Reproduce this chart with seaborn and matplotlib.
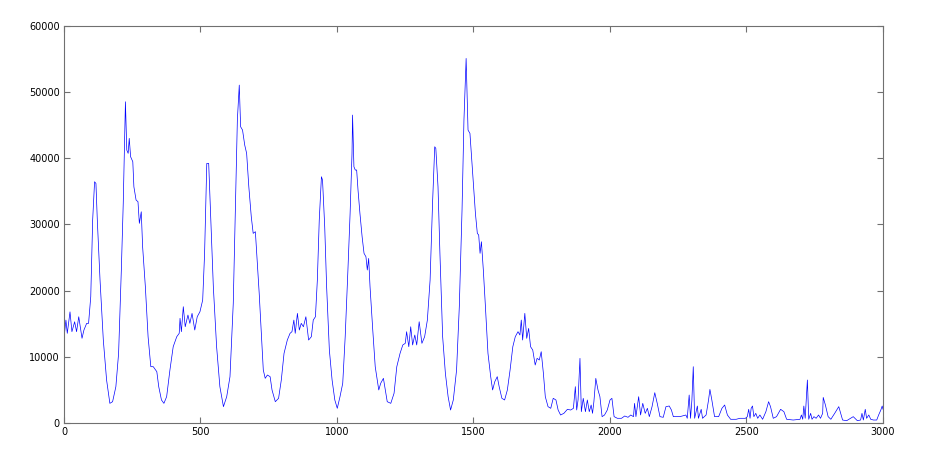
import matplotlib
matplotlib.use("Agg")
import matplotlib.pyplot as plt
import seaborn as sns

# sample index / signal value
x = [0, 7, 12, 22, 29, 39, 46, 54, 66, 73,
     83, 90, 98, 105, 112, 117, 122, 132, 144, 156,
     168, 178, 190, 200, 210, 217, 225, 230, 235, 239,
     244, 252, 256, 264, 271, 276, 283, 288, 298, 308,
     318, 327, 340, 347, 357, 366, 376, 388, 400, 413,
     422, 425, 430, 437, 444, 454, 461, 469, 479, 488,
     498, 508, 515, 523, 530, 537, 547, 559, 571, 584,
     596, 608, 620, 627, 635, 642, 647, 654, 662, 669,
     677, 686, 693, 701, 706, 715,
     730, 737, 745, 755, 762, 774, 786, 796, 806, 818,
     828, 835, 842, 847, 855, 862, 869, 877, 886, 896,
     906, 913, 921, 928, 935, 943, 947, 955, 962, 972,
     982, 992, 1001, 1011, 1021, 1030, 1040, 1048, 1055, 1057,
     1062, 1067, 1072, 1077, 1084, 1092, 1099, 1106, 1111, 1116,
     1121, 1131, 1140, 1153, 1160, 1170, 1175, 1184, 1197, 1209,
     1219, 1231, 1241, 1250, 1255, 1263, 1270, 1277, 1285, 1292,
     1301, 1311, 1321, 1331, 1341, 1350, 1358, 1362, 1370, 1377,
     1387, 1397, 1407, 1416, 1426, 1438, 1448, 1458, 1465, 1473,
     1480, 1487, 1492, 1499, 1507, 1514, 1519, 1524, 1529, 1536,
     1543, 1553, 1563, 1570, 1578, 1587, 1594, 1604, 1614, 1624,
     1634, 1644, 1653, 1663, 1670, 1675, 1680, 1688, 1695, 1702,
     1709, 1717, 1726, 1733, 1741, 1748, 1756, 1763, 1773, 1783,
     1792, 1802, 1810, 1819, 1831, 1844, 1856, 1866, 1873, 1878,
     1883, 1890, 1895, 1902, 1910, 1917, 1924, 1931, 1936, 1941,
     1948, 1956, 1963, 1971, 1980, 1990, 2000, 2007, 2015, 2027,
     2042, 2054, 2066, 2076, 2086, 2090, 2095, 2105, 2112, 2120,
     2129, 2137, 2144, 2154, 2164, 2173, 2183, 2195,
     2205, 2217, 2225, 2232, 2256, 2278, 2283, 2290, 2295, 2300,
     2305, 2310, 2320, 2324, 2334, 2339, 2352, 2361, 2366, 2373,
     2383, 2398, 2410, 2420, 2430, 2442, 2462, 2476, 2496, 2503,
     2508, 2513, 2517, 2522, 2527, 2534, 2541, 2549, 2559, 2571,
     2581, 2588, 2598, 2610, 2625, 2637, 2647, 2671, 2696, 2701,
     2706, 2710, 2715, 2723, 2728, 2735, 2740, 2747, 2755, 2764,
     2771, 2779, 2781, 2789, 2799, 2809, 2823, 2838, 2845, 2852,
     2867, 2881, 2891, 2906, 2918, 2923, 2928, 2935, 2940, 2948,
     2955, 2965, 2977, 2984, 2992, 2997, 3000]

y = [12800, 15560, 13550, 16800, 13800, 15300, 13800, 16060, 12800, 14050,
     15060, 15060, 19090, 30670, 36460, 36200, 30670, 21600, 12540, 6500,
     2970, 3220, 5490, 10530, 23120, 33200, 48550, 41250, 40750, 43020,
     40240, 39490, 35700, 33700, 33440, 30170, 31930, 26640, 20600, 13040,
     8510, 8510, 7750, 5490, 3480, 2970, 3980, 8010, 11530, 13040,
     13550, 15820, 13800, 17580, 14550, 16320, 15060, 16570, 14050, 16060,
     16820, 18580, 25640, 39230, 39230, 31690, 20600, 11530, 5490, 2470,
     3980, 7000, 18080, 30670, 45780, 51070, 44770, 44270, 42000, 40750,
     35700, 31170, 28660, 28910, 25640, 19600,
     8010, 6750, 7250, 7000, 4990, 3220, 3730, 6500, 10530, 12540,
     13550, 13800, 15560, 13550, 16570, 14050, 15060, 14550, 16060, 12540,
     13040, 15560, 16060, 21600, 30670, 37220, 36700, 29670, 20600, 11030,
     6500, 3480, 2220, 3980, 6000, 13040, 23120, 31690, 40750, 46540,
     38730, 38230, 38230, 35200, 31690, 28150, 25640, 25130, 23120, 24880,
     20600, 14050, 8510, 4990, 6000, 6750, 5490, 3220, 2970, 4490,
     8510, 10530, 11790, 12040, 13800, 11530, 14550, 11790, 13300, 11790,
     15310, 12040, 13040, 15560, 21600, 33200, 41750, 41500, 35700, 25640,
     13040, 7510, 3980, 1960, 3480, 8010, 17580, 32180, 45780, 55100,
     44270, 43770, 40750, 36720, 31690, 28660, 28410, 25640, 27400, 23120,
     18080, 10530, 7000, 4990, 6250, 7000, 5490, 3730, 3480, 4990,
     8010, 11530, 13040, 13800, 13300, 15560, 12540, 16570, 12790, 14300,
     11530, 11030, 8760, 9770, 9520, 10780, 7510, 3980, 2470, 2220,
     3730, 3480, 1960, 1210, 1460, 2070, 1960, 2220, 5490, 1960,
     3480, 9770, 1710, 3730, 1710, 3480, 1710, 2720, 1460, 3220,
     6750, 4990, 3980, 960, 1210, 1960, 3480, 3730, 960, 710,
     710, 1060, 860, 1210, 960, 2970, 960, 3980, 1210, 2970,
     1460, 2220, 960, 2470, 4580, 2970, 960, 860,
     2470, 2570, 1960, 960, 960, 1210, 710, 4230, 710, 3480,
     8510, 710, 2570, 710, 2070, 710, 1210, 3480, 5080, 3480,
     960, 960, 2220, 2720, 1210, 560, 560, 710, 710, 960,
     2070, 710, 2220, 2570, 960, 1460, 710, 1210, 560, 1710,
     3220, 2470, 710, 960, 2070, 1710, 560, 450, 560, 1210,
     560, 2570, 710, 6500, 560, 1460, 560, 960, 710, 1210,
     710, 1460, 3870, 2720, 960, 560, 1460, 2470, 1460, 450,
     350, 710, 960, 350, 450, 1460, 450, 2070, 710, 1210,
     560, 450, 450, 1210, 1960, 2570, 2070]

x_ticks = [0, 500, 1000, 1500, 2000, 2500, 3000]
y_ticks = [0, 10000, 20000, 30000, 40000, 50000, 60000]

sns.set_style("white")
fig = plt.figure(figsize=(9.28, 4.68), dpi=100)
ax = fig.add_axes([64 / 928, 45 / 468, 819 / 928, 397 / 468])

sns.lineplot(x=x, y=y, ax=ax, color="#0000ff", linewidth=0.5, estimator=None)

ax.set_xlim(0, 3000)
ax.set_ylim(0, 60000)
ax.set_xticks(x_ticks)
ax.set_yticks(y_ticks)
ax.set_xticklabels([str(t) for t in x_ticks])
ax.set_yticklabels([str(t) for t in y_ticks])
ax.tick_params(direction="in", length=4, width=0.8, color="#707070",
               labelsize=7, labelcolor="black", top=True, right=True,
               bottom=True, left=True, pad=3)
for s in ax.spines.values():
    s.set_color("#707070")
    s.set_linewidth(0.8)
ax.set_xlabel("")
ax.set_ylabel("")

fig.savefig("out.png", dpi=100)
